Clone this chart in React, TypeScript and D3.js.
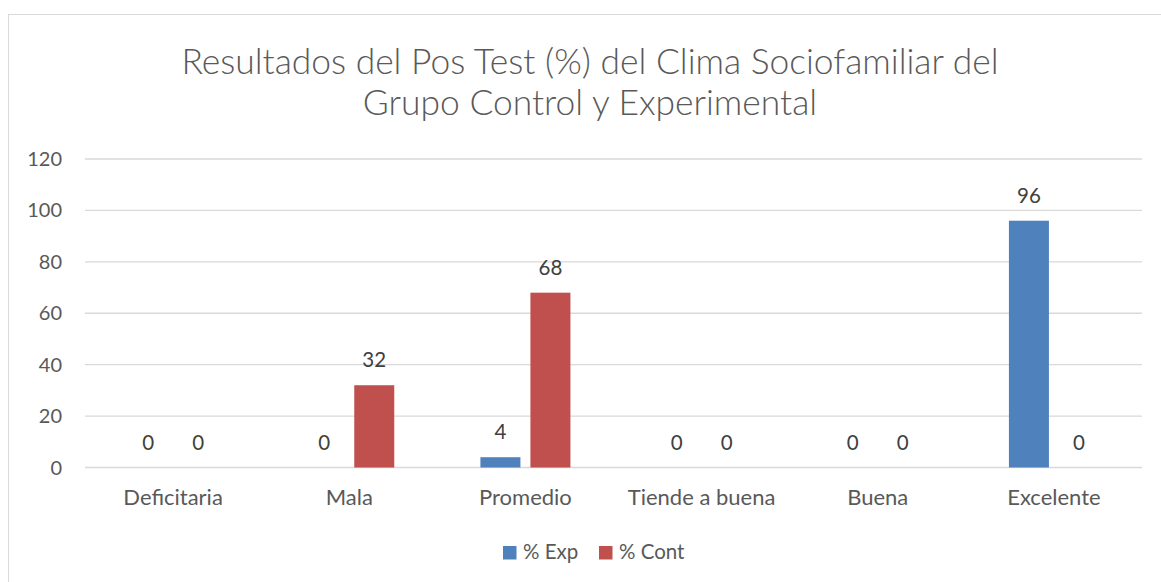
import React from "react";
import * as d3 from "d3";

const categories = ["Deficitaria", "Mala", "Promedio", "Tiende a buena", "Buena", "Excelente"];
const seriesNames = ["% Exp", "% Cont"];
const expValues = [0, 0, 4, 0, 0, 96];
const contValues = [0, 32, 68, 0, 0, 0];
const yTicks = [0, 20, 40, 60, 80, 100, 120];
const titleLines = [
  "Resultados del Pos Test (%) del Clima Sociofamiliar del",
  "Grupo Control y Experimental",
];
const colors = ["#4F81BD", "#C0504D"];

const W = 1161;
const H = 582;
const FONT = "Lato, 'Open Sans', sans-serif";

export default function App() {
  const left = 85;
  const right = 1142;
  const top = 159;
  const bottom = 467.5;

  const x = d3.scaleBand<string>().domain(categories).range([left, right]).padding(0);
  const y = d3.scaleLinear().domain([0, 120]).range([bottom, top]);
  const barW = 40;
  const offset = 25;
  const series = [expValues, contValues];

  return (
    <svg
      width={W}
      height={H}
      style={{ position: "absolute", left: 0, top: 0, display: "block", background: "#fff" }}
    >
      <rect x={8.5} y={14.5} width={W + 20} height={H + 20} fill="#fff" stroke="#d9d9d9" strokeWidth={1} />
      {titleLines.map((t, i) => (
        <text
          key={i}
          x={590}
          y={74 + i * 41}
          textAnchor="middle"
          fontFamily={FONT}
          fontSize={35.4}
          fontWeight={300}
          fill="#595959"
        >
          {t}
        </text>
      ))}
      {yTicks.map((t) => (
        <g key={t}>
          <line x1={left} x2={right} y1={y(t)} y2={y(t)} stroke="#d9d9d9" strokeWidth={1.3} />
          <text
            x={62}
            y={y(t)}
            dy="0.35em"
            textAnchor="end"
            fontFamily={FONT}
            fontSize={20}
            fill="#595959"
          >
            {t}
          </text>
        </g>
      ))}
      {categories.map((c, ci) => {
        const cx = (x(c) as number) + x.bandwidth() / 2;
        return (
          <g key={c}>
            {series.map((vals, si) => {
              const bx = cx + (si === 0 ? -offset : offset);
              const v = vals[ci];
              return (
                <g key={si}>
                  {v > 0 && (
                    <rect
                      x={bx - barW / 2}
                      y={y(v)}
                      width={barW}
                      height={bottom - y(v)}
                      fill={colors[si]}
                    />
                  )}
                  <text
                    x={bx}
                    y={y(v) - 18}
                    textAnchor="middle"
                    fontFamily={FONT}
                    fontSize={20.5}
                    fill="#404040"
                  >
                    {v}
                  </text>
                </g>
              );
            })}
            <text
              x={cx}
              y={505}
              textAnchor="middle"
              fontFamily={FONT}
              fontSize={22}
              fill="#595959"
            >
              {c}
            </text>
          </g>
        );
      })}
      {seriesNames.map((s, i) => {
        const lx = i === 0 ? 503 : 599;
        return (
          <g key={s}>
            <rect x={lx} y={546} width={13.5} height={13.5} fill={colors[i]} />
            <text x={lx + 20} y={559} fontFamily={FONT} fontSize={20.5} fill="#595959">
              {s}
            </text>
          </g>
        );
      })}
    </svg>
  );
}
